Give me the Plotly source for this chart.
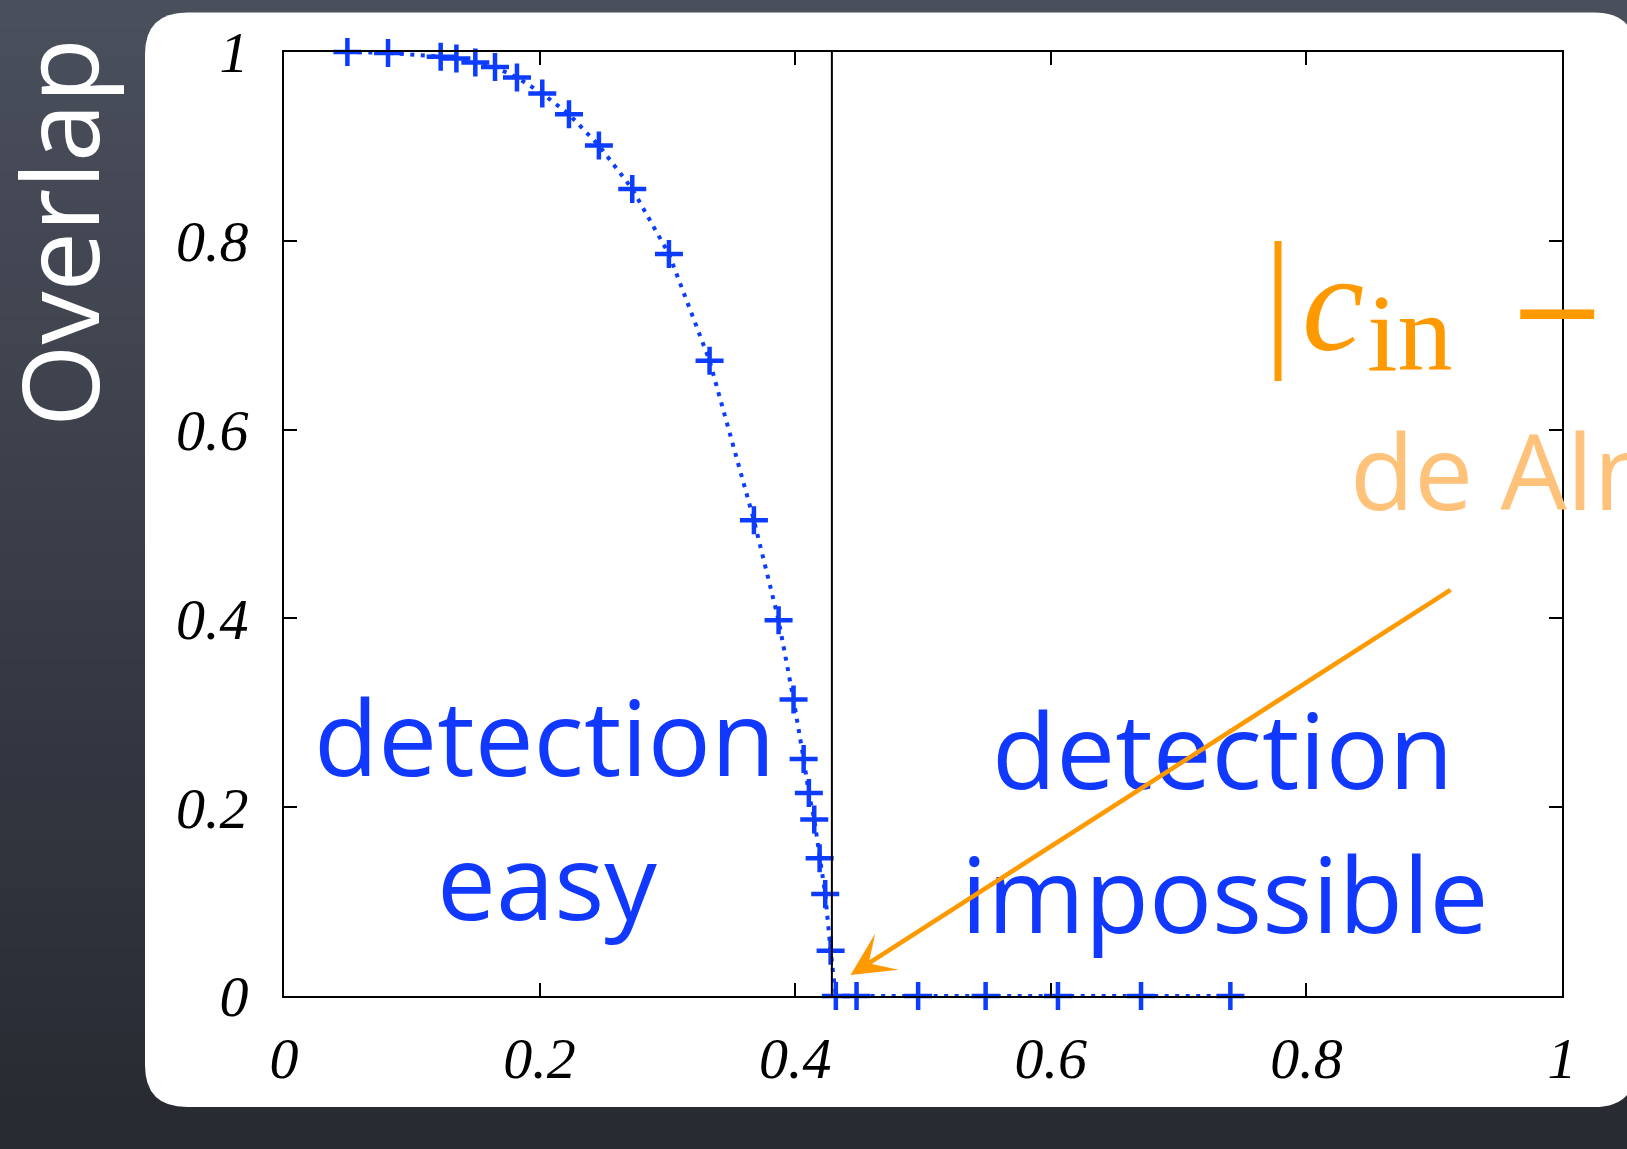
import plotly.graph_objects as go

# ---------------- data ----------------
ratio = [0.0496, 0.0814, 0.1226, 0.1349, 0.1497, 0.1651, 0.1823, 0.2021, 0.2230,
         0.2464, 0.2725, 0.3012, 0.3330, 0.3677, 0.3870, 0.3987, 0.4066, 0.4107,
         0.4149, 0.4191, 0.4235, 0.4277, 0.4318, 0.4480, 0.4962, 0.5490, 0.6056,
         0.6706, 0.7405]
overlap = [1.000, 0.999, 0.995, 0.993, 0.989, 0.984, 0.973, 0.956, 0.934,
           0.901, 0.855, 0.786, 0.673, 0.504, 0.398, 0.314, 0.251, 0.215,
           0.187, 0.146, 0.108, 0.048, 0.0, 0.0, 0.0, 0.0, 0.0,
           0.0, 0.0]
threshold = [0.4287]
tick_vals = [0, 0.2, 0.4, 0.6, 0.8, 1]
tick_text = ["0", "0.2", "0.4", "0.6", "0.8", "1"]
arrow_tip = [0.4433, 0.0223]
arrow_tail = [0.9140, 0.4312]

# ---------------- geometry ----------------
W, H = 1627, 1149
ML, MR, MT, MB = 284, 65, 52, 153
PW, PH = W - ML - MR, H - MT - MB


def px(x):
    return (x - ML) / PW


def py(y):
    return (H - MB - y) / PH


BLUE = "#1038ff"
MARK = "#0c3cff"
ORANGE = "#ff9900"
LIGHT_ORANGE = "#ffc27a"
HAND = "Open Sans"
SERIF = "Liberation Serif"

fig = go.Figure()
fig.add_trace(go.Scatter(
    x=ratio, y=overlap, mode="lines+markers",
    line=dict(color=MARK, width=4, dash="4px,6.5px"),
    marker=dict(symbol="cross-thin", size=20, color=MARK,
                line=dict(color=MARK, width=4.5)),
    cliponaxis=False, showlegend=False,
))

shapes = []
# background gradient
n = 40
top = (74, 79, 92)
bot = (40, 42, 50)
for i in range(n):
    t = i / (n - 1)
    c = tuple(int(round(top[k] + (bot[k] - top[k]) * t)) for k in range(3))
    y0 = H * i / n
    y1 = H * (i + 1) / n + 1
    shapes.append(dict(type="rect", xref="paper", yref="paper",
                       x0=px(-5), x1=px(W + 5), y0=py(y1), y1=py(y0),
                       line=dict(width=0), fillcolor="rgb(%d,%d,%d)" % c,
                       layer="below"))

# white rounded panel
l, r, t, b, rad = 145, 1636, 12.5, 1107, 42
path = (f"M {px(l + rad)},{py(t)} L {px(r - rad)},{py(t)} "
        f"Q {px(r)},{py(t)} {px(r)},{py(t + rad)} "
        f"L {px(r)},{py(b - rad)} Q {px(r)},{py(b)} {px(r - rad)},{py(b)} "
        f"L {px(l + rad)},{py(b)} Q {px(l)},{py(b)} {px(l)},{py(b - rad)} "
        f"L {px(l)},{py(t + rad)} Q {px(l)},{py(t)} {px(l + rad)},{py(t)} Z")
shapes.append(dict(type="path", xref="paper", yref="paper", path=path,
                   fillcolor="white", line=dict(width=0), layer="below"))

# threshold vertical line
shapes.append(dict(type="line", xref="x", yref="y", x0=threshold[0], x1=threshold[0],
                   y0=0, y1=1, line=dict(color="black", width=2)))

# formula bar |
shapes.append(dict(type="line", xref="paper", yref="paper",
                   x0=px(1278), x1=px(1278), y0=py(241), y1=py(381),
                   line=dict(color=ORANGE, width=7)))

fig.update_layout(shapes=shapes)

ann = []


def text(s, x, y, size, color, family=HAND, xanchor="center", style="normal", angle=0):
    ann.append(dict(text=s, x=px(x), y=py(y), xref="paper", yref="paper",
                    xanchor=xanchor, yanchor="middle", showarrow=False,
                    textangle=angle,
                    font=dict(family=family, size=size, color=color, style=style)))


# handwritten-style labels (center y = baseline - 0.388 em)
text("Overlap", 58, 233, 106, "white", angle=-90)
text("detection", 544, 776 - 0.388 * 105, 105, BLUE)
text("easy", 547, 920 - 0.388 * 105, 105, BLUE)
text("detection", 1222, 789 - 0.388 * 105, 105, BLUE)
text("impossible", 1224, 933 - 0.388 * 105, 105, BLUE)
text("de Almeida-Thouless", 1348, 510 - 0.388 * 105, 105, LIGHT_ORANGE, xanchor="left")

# formula |c_in - c_out|
text("c", 1300, 350 - 0.3375 * 140, 140, ORANGE, family=SERIF, xanchor="left", style="italic")
text("in", 1365, 370 - 0.3375 * 110, 110, ORANGE, family=SERIF, xanchor="left")
text("\u2212 <i>c</i><sub>out</sub>|", 1506, 318, 118, ORANGE,
     family="DejaVu Serif", xanchor="left")

# arrow
ann.append(dict(x=arrow_tip[0], y=arrow_tip[1], ax=arrow_tail[0], ay=arrow_tail[1],
                xref="x", yref="y", axref="x", ayref="y", text="", showarrow=True,
                arrowhead=3, arrowsize=1.6, arrowwidth=4.5, arrowcolor=ORANGE))

fig.update_layout(annotations=ann)

axis_common = dict(range=[0, 1], tickvals=tick_vals, ticktext=tick_text,
                   showline=True, linecolor="black", linewidth=2, mirror="ticks",
                   ticks="inside", ticklen=13, tickwidth=2, tickcolor="black",
                   showgrid=False, zeroline=False,
                   tickfont=dict(family=SERIF, size=58, color="black", style="italic"))
fig.update_xaxes(**axis_common, ticklabelstandoff=10)
fig.update_yaxes(**axis_common, ticklabelstandoff=22)

fig.update_layout(width=W, height=H, margin=dict(l=ML, r=MR, t=MT, b=MB),
                  paper_bgcolor="rgb(58,62,72)", plot_bgcolor="rgba(0,0,0,0)",
                  showlegend=False)

fig.write_html("out.html", post_script="document.body.style.margin='0';")
